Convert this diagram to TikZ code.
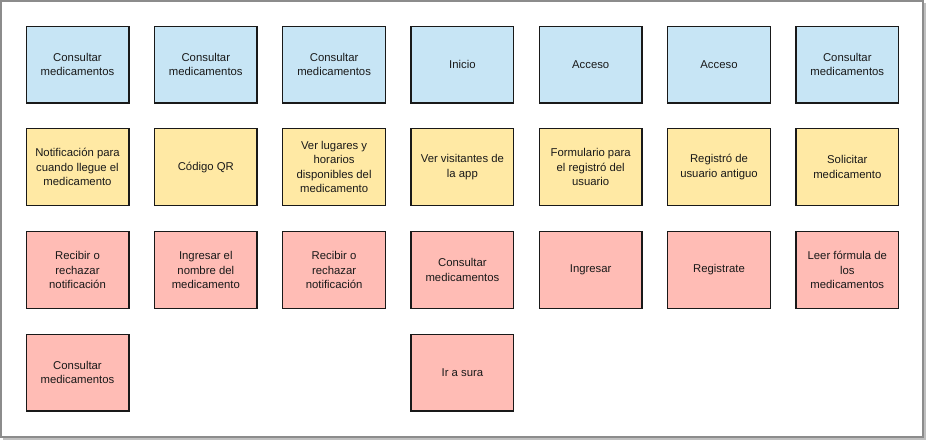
\documentclass[tikz,border=0pt]{standalone}
\usepackage{fontspec}
\setmainfont{Liberation Sans}
\usetikzlibrary{positioning}

\definecolor{notablue}{RGB}{199,229,245}
\definecolor{notayellow}{RGB}{255,233,164}
\definecolor{notapink}{RGB}{255,188,181}

\begin{document}
\begin{tikzpicture}[x=0.75pt,y=-0.75pt,
  nota/.style={draw=black!90,line width=1pt,minimum width=77pt,minimum height=57.5pt,
    align=center,text=black!90,font=\fontsize{8.5}{10.6}\selectfont,inner sep=1pt},
  azul/.style={nota,fill=notablue},
  amarilla/.style={nota,fill=notayellow},
  rosa/.style={nota,fill=notapink}]
  \useasboundingbox (0,0) rectangle (926,440);
  % marco
  \fill[black!25] (3,3) rectangle (926,440);
  \draw[black!45,fill=white,line width=1pt] (1,1) rectangle (923,437);
  % fila 1
  \node[azul] (c1) at (77.5,64.5) {Consultar\\medicamentos};
  \node[azul] (c2) at (205.8,64.5) {Consultar\\medicamentos};
  \node[azul] (c3) at (334.1,64.5) {Consultar\\medicamentos};
  \node[azul] (inicio) at (462.4,64.5) {Inicio};
  \node[azul] (acceso1) at (590.7,64.5) {Acceso};
  \node[azul] (acceso2) at (719,64.5) {Acceso};
  \node[azul] (c7) at (847.3,64.5) {Consultar\\medicamentos};
  % fila 2
  \node[amarilla] (notif) at (77.5,167) {Notificación para\\cuando llegue el\\medicamento};
  \node[amarilla] (qr) at (205.8,167) {Código QR};
  \node[amarilla] (lugares) at (334.1,167) {Ver lugares y\\horarios\\disponibles del\\medicamento};
  \node[amarilla] (visitantes) at (462.4,167) {Ver visitantes de\\la app};
  \node[amarilla] (formulario) at (590.7,167) {Formulario para\\el registró del\\usuario};
  \node[amarilla] (antiguo) at (719,167) {Registró de\\usuario antiguo};
  \node[amarilla] (solicitar) at (847.3,167) {Solicitar\\medicamento};
  % fila 3
  \node[rosa] (recibir1) at (77.5,270) {Recibir o\\rechazar\\notificación};
  \node[rosa] (nombre) at (205.8,270) {Ingresar el\\nombre del\\medicamento};
  \node[rosa] (recibir2) at (334.1,270) {Recibir o\\rechazar\\notificación};
  \node[rosa] (consultar) at (462.4,270) {Consultar\\medicamentos};
  \node[rosa] (ingresar) at (590.7,270) {Ingresar};
  \node[rosa] (registrate) at (719,270) {Registrate};
  \node[rosa] (formula) at (847.3,270) {Leer fórmula de\\los\\medicamentos};
  % fila 4
  \node[rosa] (consultar2) at (77.5,372.5) {Consultar\\medicamentos};
  \node[rosa] (sura) at (462.4,372.5) {Ir a sura};
\end{tikzpicture}
\end{document}
